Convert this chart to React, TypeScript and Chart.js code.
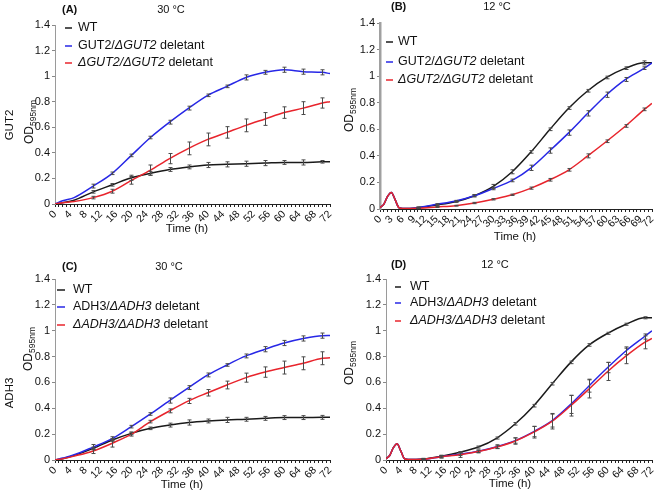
import React, { useEffect, useRef } from 'react';
import { Chart, registerables } from 'chart.js';
Chart.register(...registerables);

const W = 657;
const H = 491;
const FONT = '"Liberation Sans", Arial, Helvetica, sans-serif';

// ---------- DATA ----------
// 30 °C panels (A, C)
const hours30 = [0, 2, 5, 10, 15, 20, 25, 30, 35, 40, 45, 50, 55, 60, 65, 70, 72];
const errHours30 = [10, 15, 20, 25, 30, 35, 40, 45, 50, 55, 60, 65, 70];

const wtA = [0, 0.01, 0.03, 0.095, 0.15, 0.205, 0.24, 0.27, 0.29, 0.305, 0.31, 0.315, 0.32, 0.325, 0.325, 0.33, 0.33];
const gut2A = [0, 0.025, 0.05, 0.14, 0.24, 0.38, 0.52, 0.64, 0.75, 0.85, 0.92, 0.99, 1.03, 1.05, 1.035, 1.03, 1.02];
const delGut2A = [0, 0.01, 0.02, 0.05, 0.1, 0.185, 0.265, 0.355, 0.435, 0.505, 0.56, 0.615, 0.665, 0.715, 0.75, 0.79, 0.8];
const errWtA = [0.01, 0.01, 0.02, 0.015, 0.015, 0.015, 0.02, 0.02, 0.02, 0.02, 0.015, 0.02, 0.01];
const errGut2A = [0.015, 0.01, 0.01, 0.01, 0.015, 0.015, 0.01, 0.01, 0.02, 0.015, 0.02, 0.02, 0.02];
const errDelGut2A = [0.01, 0.015, 0.03, 0.04, 0.04, 0.05, 0.05, 0.045, 0.05, 0.05, 0.045, 0.05, 0.04];

const wtC = [0, 0.01, 0.035, 0.09, 0.155, 0.206, 0.245, 0.27, 0.29, 0.302, 0.31, 0.315, 0.322, 0.328, 0.328, 0.33, 0.33];
const adh3C = [0, 0.015, 0.04, 0.1, 0.165, 0.258, 0.356, 0.46, 0.56, 0.658, 0.735, 0.805, 0.857, 0.905, 0.94, 0.962, 0.963];
const delAdh3C = [0, 0.01, 0.03, 0.07, 0.13, 0.2, 0.297, 0.38, 0.457, 0.52, 0.58, 0.637, 0.68, 0.715, 0.748, 0.787, 0.79];
const errWtC = [0.01, 0.01, 0.01, 0.01, 0.015, 0.02, 0.015, 0.02, 0.015, 0.015, 0.015, 0.015, 0.015];
const errAdh3C = [0.02, 0.015, 0.01, 0.01, 0.02, 0.015, 0.015, 0.01, 0.015, 0.02, 0.02, 0.02, 0.02];
const errDelAdh3C = [0.02, 0.03, 0.015, 0.01, 0.015, 0.02, 0.025, 0.03, 0.035, 0.04, 0.05, 0.05, 0.05];

// 12 °C panels (B, D)
const hours12 = [0, 1, 2, 3, 4, 5, 6, 10, 15, 20, 25, 30, 35, 40, 45, 50, 55, 60, 65, 70, 72];
const errHours12 = [10, 15, 20, 25, 30, 35, 40, 45, 50, 55, 60, 65, 70];

const wtB = [0.01, 0.035, 0.095, 0.125, 0.07, 0.01, 0.003, 0.01, 0.03, 0.055, 0.1, 0.17, 0.28, 0.43, 0.6, 0.76, 0.89, 0.99, 1.06, 1.1, 1.1];
const gut2B = [0.01, 0.035, 0.095, 0.125, 0.07, 0.01, 0.003, 0.01, 0.035, 0.06, 0.1, 0.155, 0.215, 0.31, 0.44, 0.575, 0.72, 0.86, 0.975, 1.06, 1.1];
const delGut2B = [0.01, 0.035, 0.095, 0.125, 0.07, 0.01, 0.003, 0.005, 0.015, 0.025, 0.045, 0.073, 0.107, 0.157, 0.22, 0.295, 0.4, 0.51, 0.625, 0.75, 0.795];
const errWtB = [0.005, 0.005, 0.005, 0.008, 0.015, 0.015, 0.01, 0.01, 0.01, 0.01, 0.01, 0.01, 0.015];
const errGut2B = [0.005, 0.005, 0.005, 0.008, 0.01, 0.01, 0.02, 0.02, 0.02, 0.02, 0.02, 0.015, 0.01];
const errDelGut2B = [0.003, 0.003, 0.003, 0.005, 0.005, 0.005, 0.008, 0.01, 0.01, 0.015, 0.01, 0.01, 0.01];

const wtD = [0.01, 0.035, 0.095, 0.125, 0.07, 0.01, 0.003, 0.008, 0.03, 0.06, 0.1, 0.17, 0.28, 0.42, 0.59, 0.755, 0.89, 0.98, 1.05, 1.1, 1.1];
const adh3D = [0.01, 0.035, 0.095, 0.125, 0.07, 0.01, 0.003, 0.005, 0.026, 0.045, 0.068, 0.103, 0.15, 0.22, 0.305, 0.43, 0.575, 0.715, 0.845, 0.955, 1.0];
const delAdh3D = [0.01, 0.035, 0.095, 0.125, 0.07, 0.01, 0.003, 0.005, 0.026, 0.04, 0.065, 0.1, 0.147, 0.215, 0.3, 0.42, 0.55, 0.685, 0.805, 0.91, 0.94];
const errWtD = [0.005, 0.005, 0.005, 0.008, 0.008, 0.01, 0.01, 0.01, 0.01, 0.01, 0.008, 0.008, 0.008];
const errAdh3D = [0.005, 0.01, 0.01, 0.01, 0.015, 0.02, 0.04, 0.05, 0.07, 0.05, 0.04, 0.03, 0.02];
const errDelAdh3D = [0.005, 0.01, 0.02, 0.01, 0.01, 0.025, 0.045, 0.06, 0.08, 0.07, 0.07, 0.06, 0.05];

const yTicks = [0, 0.2, 0.4, 0.6, 0.8, 1, 1.2, 1.4];

// ---------- STYLE ----------
const BLACK = '#1a1a1a';
const BLUE = '#2727e6';
const RED = '#e8242c';
const ERR = '#4a4a4a';

type Seg = { t: string; i?: boolean };

const errPlugin = {
  id: 'errBars',
  afterDatasetsDraw(chart: any) {
    const ctx = chart.ctx;
    const xs = chart.scales.x;
    const ys = chart.scales.y;
    ctx.save();
    ctx.strokeStyle = ERR;
    ctx.lineWidth = 1;
    chart.data.datasets.forEach((ds: any) => {
      if (!ds.errHours) return;
      ds.errHours.forEach((h: number, k: number) => {
        const pt = ds.data.find((p: any) => p.x === h);
        if (!pt) return;
        const e = ds.errs[k];
        const px = Math.round(xs.getPixelForValue(h)) + 0.5;
        const y1 = ys.getPixelForValue(pt.y + e);
        const y2 = ys.getPixelForValue(pt.y - e);
        ctx.beginPath();
        ctx.moveTo(px, y1);
        ctx.lineTo(px, y2);
        ctx.moveTo(px - 2, y1);
        ctx.lineTo(px + 2, y1);
        ctx.moveTo(px - 2, y2);
        ctx.lineTo(px + 2, y2);
        ctx.stroke();
      });
    });
    ctx.restore();
  },
};

function drawSegs(ctx: CanvasRenderingContext2D, segs: Seg[], x: number, y: number, size: number) {
  let cx = x;
  segs.forEach((s) => {
    ctx.font = `${s.i ? 'italic ' : ''}${size}px ${FONT}`;
    ctx.fillText(s.t, cx, y);
    cx += ctx.measureText(s.t).width;
  });
}

const textPlugin = {
  id: 'panelText',
  afterDraw(chart: any, _args: any, o: any) {
    const ctx: CanvasRenderingContext2D = chart.ctx;
    ctx.save();
    ctx.fillStyle = '#111';
    ctx.textBaseline = 'middle';
    ctx.textAlign = 'left';
    ctx.font = `bold 11px ${FONT}`;
    ctx.fillText(o.letter.t, o.letter.x, o.letter.y);
    ctx.textAlign = 'center';
    ctx.font = `11px ${FONT}`;
    ctx.fillText(o.temp.t, o.temp.x, o.temp.y);
    ctx.font = `11.5px ${FONT}`;
    ctx.fillText('Time (h)', o.xTitle.x, o.xTitle.y);
    if (o.row) {
      ctx.save();
      ctx.translate(o.row.x, o.row.y);
      ctx.rotate(-Math.PI / 2);
      ctx.font = `11.5px ${FONT}`;
      ctx.fillText(o.row.t, 0, 0);
      ctx.restore();
    }
    ctx.save();
    ctx.translate(o.od.x, o.od.y);
    ctx.rotate(-Math.PI / 2);
    ctx.textAlign = 'left';
    ctx.font = `12px ${FONT}`;
    const w1 = ctx.measureText('OD').width;
    ctx.font = `8.5px ${FONT}`;
    const w2 = ctx.measureText('595nm').width;
    const start = -(w1 + w2) / 2;
    ctx.font = `12px ${FONT}`;
    ctx.fillText('OD', start, 0);
    ctx.font = `8.5px ${FONT}`;
    ctx.fillText('595nm', start + w1, 4);
    ctx.restore();
    const lg = o.legend;
    ctx.textAlign = 'left';
    lg.items.forEach((it: any, k: number) => {
      const y = lg.ys[k];
      ctx.strokeStyle = it.color;
      ctx.lineWidth = 1.5;
      ctx.beginPath();
      ctx.moveTo(lg.x1, y);
      ctx.lineTo(lg.x2, y);
      ctx.stroke();
      ctx.fillStyle = '#111';
      drawSegs(ctx, it.segs, lg.tx, y, 12.5);
    });
    ctx.restore();
  },
};

type PanelCfg = {
  area: { l: number; t: number; r: number; b: number };
  hours: number[];
  errHours: number[];
  series: { v: number[]; e: number[]; color: string; order: number }[];
  labelStep: number;
  yBorder: { color: string; width: number };
  text: any;
};

function pts(hours: number[], v: number[]) {
  return hours.map((h, i) => ({ x: h, y: v[i] }));
}

function buildConfig(p: PanelCfg): any {
  const YW = 40;
  const XH = 40;
  const fitX = (s: any) => {
    s.height = XH;
    s.paddingLeft = 0;
    s.paddingRight = 0;
    s.paddingTop = 0;
    s.paddingBottom = 0;
  };
  const fitY = (s: any) => {
    s.width = YW;
    s.paddingLeft = 0;
    s.paddingRight = 0;
    s.paddingTop = 0;
    s.paddingBottom = 0;
  };
  return {
    type: 'line',
    data: {
      datasets: p.series.map((s) => ({
        data: pts(p.hours, s.v),
        borderColor: s.color,
        borderWidth: 1.5,
        pointRadius: 0,
        fill: false,
        cubicInterpolationMode: 'monotone',
        order: s.order,
        errHours: p.errHours,
        errs: s.e,
      })),
    },
    options: {
      responsive: false,
      animation: false,
      events: [],
      layout: {
        padding: {
          left: p.area.l - YW,
          top: p.area.t,
          right: W - p.area.r,
          bottom: H - p.area.b - XH,
        },
      },
      plugins: {
        legend: { display: false },
        tooltip: { enabled: false },
        panelText: p.text,
      },
      scales: {
        x: {
          type: 'linear',
          min: 0,
          max: 72,
          afterFit: fitX,
          ticks: {
            stepSize: 1,
            autoSkip: false,
            minRotation: 45,
            maxRotation: 45,
            padding: 1,
            color: '#111',
            font: { family: FONT, size: 10.5 },
            callback: (v: number) => (v % p.labelStep === 0 ? String(v) : ''),
          },
          grid: { drawOnChartArea: false, tickLength: 3, tickColor: '#222', tickWidth: 1 },
          border: { color: '#222', width: 1 },
        },
        y: {
          min: 0,
          max: 1.4,
          afterFit: fitY,
          afterBuildTicks: (s: any) => {
            s.ticks = yTicks.map((v) => ({ value: v }));
          },
          ticks: {
            padding: 2,
            color: '#111',
            font: { family: FONT, size: 11 },
            callback: (v: number) => String(Math.round(v * 10) / 10),
          },
          grid: { drawOnChartArea: false, tickLength: 3, tickColor: '#888' },
          border: { color: p.yBorder.color, width: p.yBorder.width },
        },
      },
    },
    plugins: [errPlugin, textPlugin],
  };
}

const legendGUT2 = [
  { color: BLACK, segs: [{ t: 'WT' }] },
  { color: BLUE, segs: [{ t: 'GUT2/' }, { t: 'ΔGUT2', i: true }, { t: ' deletant' }] },
  { color: RED, segs: [{ t: 'ΔGUT2/ΔGUT2', i: true }, { t: ' deletant' }] },
];
const legendADH3 = [
  { color: BLACK, segs: [{ t: 'WT' }] },
  { color: BLUE, segs: [{ t: 'ADH3/' }, { t: 'ΔADH3', i: true }, { t: ' deletant' }] },
  { color: RED, segs: [{ t: 'ΔADH3/ΔADH3', i: true }, { t: ' deletant' }] },
];

const panels: PanelCfg[] = [
  {
    area: { l: 55, t: 25, r: 330, b: 204 },
    hours: hours30,
    errHours: errHours30,
    series: [
      { v: wtA, e: errWtA, color: BLACK, order: 2 },
      { v: gut2A, e: errGut2A, color: BLUE, order: 1 },
      { v: delGut2A, e: errDelGut2A, color: RED, order: 0 },
    ],
    labelStep: 4,
    yBorder: { color: '#9a9a9a', width: 1 },
    text: {
      letter: { t: '(A)', x: 62, y: 10 },
      temp: { t: '30 °C', x: 171, y: 10 },
      xTitle: { x: 187, y: 229 },
      row: { t: 'GUT2', x: 10, y: 125 },
      od: { x: 30, y: 122 },
      legend: { x1: 65, x2: 72, tx: 78, ys: [28, 46, 63], items: legendGUT2 },
    },
  },
  {
    area: { l: 380, t: 23, r: 652, b: 209 },
    hours: hours12,
    errHours: errHours12,
    series: [
      { v: wtB, e: errWtB, color: BLACK, order: 2 },
      { v: gut2B, e: errGut2B, color: BLUE, order: 1 },
      { v: delGut2B, e: errDelGut2B, color: RED, order: 0 },
    ],
    labelStep: 3,
    yBorder: { color: '#a0a0a0', width: 2.5 },
    text: {
      letter: { t: '(B)', x: 391, y: 7 },
      temp: { t: '12 °C', x: 497, y: 7 },
      xTitle: { x: 515, y: 237 },
      row: null,
      od: { x: 350, y: 110 },
      legend: { x1: 386, x2: 393, tx: 398, ys: [42, 62, 80], items: legendGUT2 },
    },
  },
  {
    area: { l: 55, t: 279, r: 330, b: 460 },
    hours: hours30,
    errHours: errHours30,
    series: [
      { v: wtC, e: errWtC, color: BLACK, order: 2 },
      { v: adh3C, e: errAdh3C, color: BLUE, order: 1 },
      { v: delAdh3C, e: errDelAdh3C, color: RED, order: 0 },
    ],
    labelStep: 4,
    yBorder: { color: '#9a9a9a', width: 1 },
    text: {
      letter: { t: '(C)', x: 62, y: 267 },
      temp: { t: '30 °C', x: 169, y: 267 },
      xTitle: { x: 182, y: 485 },
      row: { t: 'ADH3', x: 10, y: 393 },
      od: { x: 29, y: 349 },
      legend: { x1: 57, x2: 65, tx: 73, ys: [290, 307, 325], items: legendADH3 },
    },
  },
  {
    area: { l: 386, t: 279, r: 652, b: 460 },
    hours: hours12,
    errHours: errHours12,
    series: [
      { v: wtD, e: errWtD, color: BLACK, order: 2 },
      { v: adh3D, e: errAdh3D, color: BLUE, order: 1 },
      { v: delAdh3D, e: errDelAdh3D, color: RED, order: 0 },
    ],
    labelStep: 4,
    yBorder: { color: '#9a9a9a', width: 1 },
    text: {
      letter: { t: '(D)', x: 391, y: 265 },
      temp: { t: '12 °C', x: 495, y: 265 },
      xTitle: { x: 510, y: 484 },
      row: null,
      od: { x: 350, y: 363 },
      legend: { x1: 395, x2: 401, tx: 410, ys: [287, 303, 321], items: legendADH3 },
    },
  },
];

function Panel({ cfg }: { cfg: PanelCfg }) {
  const ref = useRef<HTMLCanvasElement>(null);
  useEffect(() => {
    const chart = new Chart(ref.current as HTMLCanvasElement, buildConfig(cfg));
    return () => chart.destroy();
  }, [cfg]);
  return (
    <canvas
      ref={ref}
      width={W}
      height={H}
      style={{ position: 'absolute', left: 0, top: 0, width: W, height: H }}
    />
  );
}

export default function App() {
  return (
    <div style={{ position: 'fixed', left: 0, top: 0, width: W, height: H, background: '#fff', overflow: 'hidden' }}>
      {panels.map((p, i) => (
        <Panel key={i} cfg={p} />
      ))}
    </div>
  );
}
